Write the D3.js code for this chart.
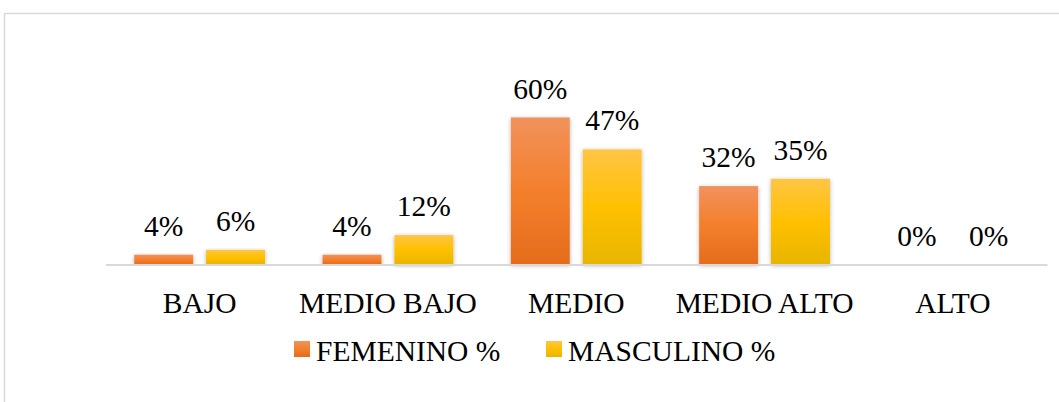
<!DOCTYPE html>
<html>
<head>
<meta charset="utf-8">
<script src="https://cdn.jsdelivr.net/npm/d3@7"></script>
<style>
  html, body { margin: 0; padding: 0; background: #fff; }
  svg text { font-family: "Liberation Serif", "Times New Roman", serif; fill: #000; }
</style>
</head>
<body>
<svg id="chart" width="1059" height="402"></svg>
<script>
// chart data
const categories = ["BAJO", "MEDIO BAJO", "MEDIO", "MEDIO ALTO", "ALTO"];
const seriesNames = ["FEMENINO %", "MASCULINO %"];
const femenino = [4, 4, 60, 32, 0];
const masculino = [6, 12, 47, 35, 0];

const fontSize = 29.5;
const svg = d3.select("#chart");

// gradients + soft shadow like the office chart
const defs = svg.append("defs");
const gradStops = [
    [["0%", "#F1925C"], ["50%", "#F47F2C"], ["100%", "#E46C1C"]],
    [["0%", "#FFC545"], ["50%", "#FFC000"], ["100%", "#E8B500"]]
];
gradStops.forEach((stops, i) => {
    const g = defs.append("linearGradient")
        .attr("id", "grad" + i)
        .attr("x1", 0).attr("y1", 0).attr("x2", 0).attr("y2", 1);
    stops.forEach(s => g.append("stop").attr("offset", s[0]).attr("stop-color", s[1]));
});
const shadow = defs.append("filter").attr("id", "shadow")
    .attr("x", "-20%").attr("y", "-10%").attr("width", "140%").attr("height", "120%");
shadow.append("feDropShadow")
    .attr("dx", 0).attr("dy", 1).attr("stdDeviation", 2)
    .attr("flood-color", "#000").attr("flood-opacity", 0.3);

// outer frame (only top and left visible)
svg.append("path")
    .attr("d", "M4.5,402 V13.5 H1059")
    .attr("fill", "none")
    .attr("stroke", "#D9D9D9")
    .attr("stroke-width", 1.5);

const x0 = d3.scaleBand()
    .domain(categories)
    .range([105.5, 1047]);

const x1 = d3.scaleBand()
    .domain(seriesNames)
    .range([0, x0.bandwidth()])
    .paddingInner(0.18)
    .paddingOuter(0.4);

const y = d3.scaleLinear()
    .domain([0, 70])
    .range([264.5, 93]);

const series = [femenino, masculino];

const groups = svg.append("g")
    .selectAll("g")
    .data(series)
    .join("g");

groups.each(function(vals, si) {
    const g = d3.select(this);
    const rows = vals.map((v, ci) => ({ v: v, c: categories[ci] }));
    g.selectAll("rect")
        .data(rows.filter(d => d.v > 0))
        .join("rect")
        .attr("x", d => x0(d.c) + x1(seriesNames[si]))
        .attr("y", d => y(d.v))
        .attr("width", x1.bandwidth())
        .attr("height", d => y(0) - y(d.v))
        .attr("fill", "url(#grad" + si + ")")
        .attr("filter", "url(#shadow)");

    g.selectAll("text")
        .data(rows)
        .join("text")
        .attr("x", d => x0(d.c) + x1(seriesNames[si]) + x1.bandwidth() / 2)
        .attr("y", d => y(d.v) - 19)
        .attr("text-anchor", "middle")
        .attr("font-size", fontSize)
        .text(d => d.v + "%");
});

// category axis
const xAxis = svg.append("g")
    .attr("transform", "translate(0," + y(0) + ")")
    .call(d3.axisBottom(x0).tickSize(0).tickPadding(0));
xAxis.select(".domain")
    .attr("stroke", "#D9D9D9")
    .attr("stroke-width", 2);
xAxis.selectAll("text")
    .attr("dy", null)
    .attr("y", 48)
    .attr("font-size", fontSize)
    .attr("font-family", "Liberation Serif, Times New Roman, serif")
    .attr("fill", "#000");

// legend
const legendX = [294, 546];
const legend = svg.append("g")
    .selectAll("g")
    .data(seriesNames)
    .join("g")
    .attr("transform", (d, i) => "translate(" + legendX[i] + ",341)");
legend.append("rect")
    .attr("width", 16).attr("height", 16)
    .attr("fill", (d, i) => "url(#grad" + i + ")");
legend.append("text")
    .attr("x", 22)
    .attr("y", 20)
    .attr("font-size", fontSize)
    .text(d => d);
</script>
</body>
</html>
